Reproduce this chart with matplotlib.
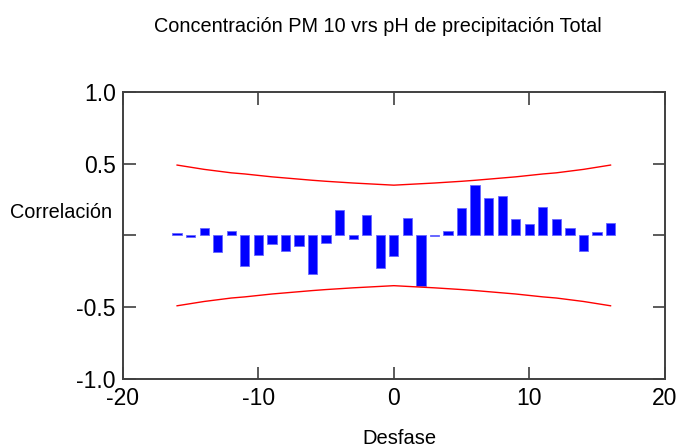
import matplotlib
matplotlib.use("Agg")
import matplotlib.pyplot as plt

# Desfase (lags) y correlaciones
lags = list(range(-16, 17))
corr = [0.015, -0.01, 0.05, -0.116, 0.032, -0.21, -0.137, -0.06, -0.107, -0.072,
        -0.267, -0.051, 0.178, -0.025, 0.144, -0.227, -0.144,
        0.123, -0.35, -0.005, 0.032, 0.19, 0.348, 0.262, 0.274, 0.116,
        0.079, 0.2, 0.116, 0.051, -0.107, 0.023, 0.088]

# Limite de confianza superior (el inferior es el simetrico)
band_upper = [0.490, 0.475, 0.460, 0.448, 0.436, 0.428, 0.418, 0.408, 0.400,
              0.392, 0.384, 0.377, 0.371, 0.365, 0.360, 0.355, 0.350,
              0.355, 0.360, 0.365, 0.371, 0.377, 0.384, 0.392, 0.400,
              0.408, 0.418, 0.428, 0.436, 0.448, 0.460, 0.475, 0.490]
band_lower = [-v for v in band_upper]

plt.rcParams['font.family'] = ['Liberation Sans', 'DejaVu Sans']
plt.rcParams['axes.unicode_minus'] = False

fig = plt.figure(figsize=(6.79, 4.48), dpi=100)
ax = fig.add_axes([0.181, 0.154, 0.798, 0.641])

ax.bar(lags, corr, width=0.68, color='#0000FF', edgecolor='#6666FF', linewidth=0.6)
ax.plot(lags, band_upper, color='#FF0000', linewidth=1.0)
ax.plot(lags, band_lower, color='#FF0000', linewidth=1.0)

ax.set_xlim(-20, 20)
ax.set_ylim(-1.0, 1.0)
ax.set_xticks([-20, -10, 0, 10, 20])
ax.set_yticks([-1.0, -0.5, 0.0, 0.5, 1.0])
ax.set_yticklabels(['-1.0', '-0.5', '', '0.5', '1.0'])
ax.tick_params(direction='in', length=9, width=1.2, color='#404040',
               top=True, right=True, labelsize=16.5)
ax.tick_params(axis='x', pad=6)
ax.tick_params(axis='y', pad=5)

for s in ax.spines.values():
    s.set_color('#404040')
    s.set_linewidth(1.4)

fig.text(0.556, 0.94, 'Concentración PM 10 vrs pH de precipitación Total',
         ha='center', va='center', fontsize=14.3)
fig.text(0.015, 0.525, 'Correlación', ha='left', va='center', fontsize=14.3)
fig.text(0.588, 0.022, 'Desfase', ha='center', va='center', fontsize=14.5)

fig.savefig('out.png', dpi=100)
